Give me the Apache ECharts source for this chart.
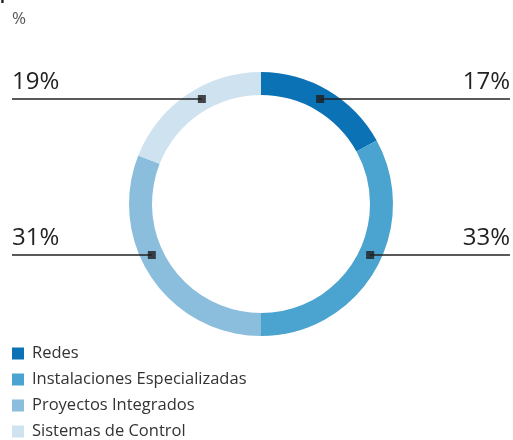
<!DOCTYPE html>
<html>
<head>
<meta charset="utf-8">
<script src="https://cdn.jsdelivr.net/npm/echarts@6/dist/echarts.min.js"></script>
<style>
  html, body { margin: 0; padding: 0; background: #fff; }
  #chart { width: 513px; height: 440px; }
</style>
</head>
<body>
<div id="chart"></div>
<script>
// Share of activity by business line (%)
const categories = ['Redes', 'Instalaciones Especializadas', 'Proyectos Integrados', 'Sistemas de Control'];
const shares = [17, 33, 31, 19];
const colors = ['#0b72b5', '#4ba3cf', '#8bbddd', '#cfe2f0'];

// Ring geometry and callout rows
const CX = 261, CY = 204, R_IN = 109, R_OUT = 132;
const R_MID = (R_IN + R_OUT) / 2;
const ROW_TOP = 99, ROW_BOTTOM = 255;
const LEFT_X = 12, RIGHT_X = 510;
const FONT = "'Open Sans', 'Liberation Sans', sans-serif";

const total = shares.reduce((a, b) => a + b, 0);
// mid angle of each slice, degrees clockwise from 12 o'clock
const midAngles = [];
let acc = 0;
shares.forEach(v => { midAngles.push((acc + v / 2) / total * 360); acc += v; });

// where a slice's callout row crosses the middle of the ring
function anchor(i) {
  const a = midAngles[i];
  const right = a < 180;
  const upper = a < 90 || a > 270;
  const y = upper ? ROW_TOP : ROW_BOTTOM;
  const dy = y - CY;
  const dx = Math.sqrt(R_MID * R_MID - dy * dy) * (right ? 1 : -1);
  let theta = Math.atan2(dx, -dy) * 180 / Math.PI;
  if (theta < 0) theta += 360;
  return { x: CX + dx, y: y, right: right, theta: theta };
}

const pieData = categories.map((n, i) => ({ name: n, value: shares[i] }));

const chart = echarts.init(document.getElementById('chart'), null, { renderer: 'canvas' });

chart.setOption({
  animation: false,
  title: {
    text: 'por actividad',
    left: 0,
    top: -14,
    padding: 0,
    textStyle: { fontSize: 16, fontWeight: 'bold', color: '#222', fontFamily: FONT }
  },
  graphic: [{
    type: 'text',
    left: 12,
    top: 11,
    style: { text: '%', font: '17px ' + FONT, fill: '#555' }
  }],
  legend: {
    orient: 'vertical',
    left: 12,
    top: 345,
    height: 120,
    padding: 0,
    itemWidth: 12,
    itemHeight: 12,
    itemGap: 9,
    icon: 'rect',
    selectedMode: false,
    data: categories.map((n, i) => ({ name: n, itemStyle: { color: colors[i] } })),
    textStyle: { fontSize: 16.5, color: '#333', fontFamily: FONT, padding: [0, 0, 0, 3] }
  },
  polar: { center: [CX, CY], radius: R_OUT },
  angleAxis: { type: 'value', min: 0, max: 360, startAngle: 90, clockwise: true, show: false },
  radiusAxis: { type: 'value', min: 0, max: R_OUT, show: false },
  series: [
    {
      // the ring itself
      type: 'pie',
      z: 2,
      center: [CX, CY],
      radius: [R_IN, R_OUT],
      startAngle: 90,
      clockwise: true,
      silent: true,
      emphasis: { disabled: true },
      data: pieData.map((d, i) => ({ name: d.name, value: d.value, itemStyle: { color: colors[i] } })),
      label: { show: false },
      labelLine: { show: false }
    },
    {
      // value callouts, drawn above the ring
      type: 'pie',
      z: 5,
      center: [CX, CY],
      radius: [R_IN, R_OUT],
      startAngle: 90,
      clockwise: true,
      silent: true,
      emphasis: { disabled: true },
      itemStyle: { color: 'rgba(0,0,0,0)' },
      data: pieData,
      label: {
        show: true,
        formatter: '{c}%',
        fontSize: 24,
        lineHeight: 24,
        color: '#222',
        fontFamily: FONT
      },
      labelLine: { show: true, lineStyle: { color: '#222', width: 1.6 } },
      labelLayout: function (p) {
        const an = anchor(p.dataIndex);
        const edge = an.right ? RIGHT_X : LEFT_X;
        return {
          x: edge,
          y: an.y - 5,
          align: an.right ? 'right' : 'left',
          verticalAlign: 'bottom',
          labelLinePoints: [[an.x, an.y], [an.x, an.y], [edge, an.y]]
        };
      }
    },
    {
      // square markers where the callout lines meet the ring
      type: 'scatter',
      coordinateSystem: 'polar',
      symbol: 'rect',
      symbolSize: 8,
      silent: true,
      z: 10,
      itemStyle: { color: '#1e1e1e' },
      data: categories.map((_, i) => [R_MID, anchor(i).theta])
    }
  ]
});
</script>
</body>
</html>
